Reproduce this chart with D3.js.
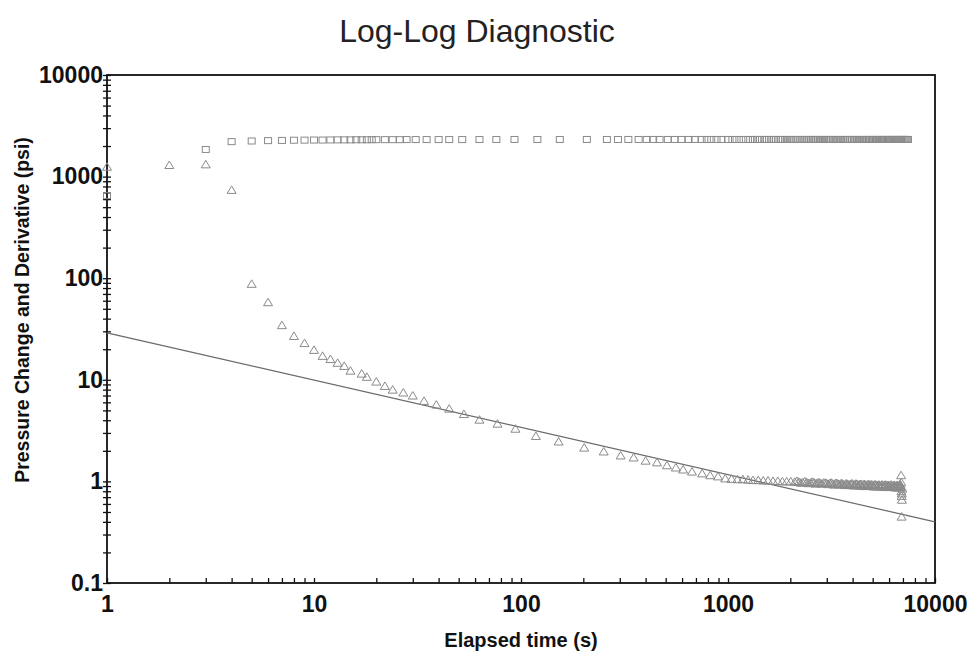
<!doctype html>
<html>

<head>
    <style>
        body { margin: 0; background: #fff; }
        .tick text { font-family: "Liberation Sans", Arial, sans-serif; font-weight: bold; font-size: 23px; fill: #111; }
        .mark { fill: none; stroke: #8a8a8a; stroke-width: 1; }
    </style>
    <script src="https://d3js.org/d3.v7.min.js"></script>
</head>

<body>
    <svg width="970" height="661"></svg>
    <script>
        // pressure change (squares)
        var pressureTime = [1, 3, 4, 5, 6, 7, 8, 9, 10, 11, 12, 13, 14, 15, 16, 17, 18, 19, 20,
            22, 24, 26, 28, 31, 35, 40, 45, 52, 63, 76, 93, 120, 154, 208, 260, 294, 330, 370, 405,
            435, 467, 512, 552, 596, 645, 692, 745, 790, 830, 880, 930, 1000,
            1050, 1100, 1160, 1220, 1280, 1350, 1420, 1500, 1580, 1660, 1750, 1840, 1930, 2020, 2120,
            2220, 2320, 2420, 2520, 2620, 2720, 2820, 2920, 3020, 3150, 3300, 3450, 3600, 3750, 3900,
            4050, 4200, 4350, 4500, 4650, 4800, 4950, 5100, 5250, 5400, 5550, 5700, 5850, 6000, 6150,
            6300, 6450, 6600, 6750, 6900, 7050, 7200, 7350,
            1320, 1390, 1460, 1540, 1620, 1700, 1800, 1890, 1980, 2070, 2170, 2270, 2370, 2470, 2570,
            2670, 2770, 2870, 2970, 3080, 3220, 3370, 3520, 3670, 3820, 3970, 4120, 4270, 4420, 4570,
            4720, 4870, 5020, 5170, 5320, 5470, 5620, 5770, 5920, 6070, 6220, 6370, 6520, 6670, 6820,
            6970, 7120, 7270, 7400]
        var pressure = [650, 1850, 2210, 2240, 2260, 2270, 2280, 2285, 2290, 2290, 2295, 2300, 2300, 2300, 2305, 2305, 2305, 2310, 2310,
            2310, 2310, 2310, 2315, 2315, 2315, 2315, 2315, 2315, 2320, 2320, 2320, 2320, 2320, 2320, 2320, 2320, 2320, 2320, 2320,
            2320, 2320, 2320, 2320, 2320, 2320, 2320, 2320, 2320, 2320, 2320, 2320, 2320,
            2320, 2320, 2320, 2320, 2320, 2320, 2320, 2320, 2320, 2320, 2320, 2320, 2320, 2320, 2320,
            2320, 2320, 2320, 2320, 2320, 2320, 2320, 2320, 2320, 2320, 2320, 2320, 2320, 2320, 2320,
            2320, 2320, 2320, 2320, 2320, 2320, 2320, 2320, 2320, 2320, 2320, 2320, 2320, 2320, 2320,
            2320, 2320, 2320, 2320, 2320, 2320, 2320, 2320,
            2320, 2320, 2320, 2320, 2320, 2320, 2320, 2320, 2320, 2320, 2320, 2320, 2320, 2320, 2320,
            2320, 2320, 2320, 2320, 2320, 2320, 2320, 2320, 2320, 2320, 2320, 2320, 2320, 2320, 2320,
            2320, 2320, 2320, 2320, 2320, 2320, 2320, 2320, 2320, 2320, 2320, 2320, 2320, 2320, 2320,
            2320, 2320, 2320, 2320]

        // derivative (triangles)
        var derivTime = [1, 2, 3, 4, 5, 6, 7, 8, 9, 10, 11, 12, 13, 14, 15, 17, 18, 20, 22, 24, 27, 30, 34, 39, 45, 53, 63, 77, 94,
            118, 152, 202, 251, 303, 350, 400, 454, 507, 560, 607, 670, 750, 820, 895, 970,
            1040, 1110, 1180, 1250, 1320, 1400, 1480, 1560, 1650, 1740, 1830, 1920, 2010,
            2100, 2200, 2300, 2400, 2500, 2600, 2700, 2800, 2900, 3000, 3100, 3200, 3300, 3400, 3500, 3600,
            3700, 3800, 3900, 4000, 4100, 4200, 4300, 4400, 4500, 4600, 4700, 4800, 4900, 5000, 5100, 5200,
            5300, 5400, 5500, 5600, 5700, 5800, 5900, 6000, 6100, 6200, 6300, 6400, 6500, 6600, 6700, 6800,
            2150, 2250, 2350, 2450, 2550, 2650, 2750, 2850, 2950, 3050, 3150, 3250, 3350, 3450, 3550, 3650,
            3750, 3850, 3950, 4050, 4150, 4250, 4350, 4450, 4550, 4650, 4750, 4850, 4950, 5050, 5150, 5250,
            5350, 5450, 5550, 5650, 5750, 5850, 5950, 6050, 6150, 6250, 6350, 6450, 6550, 6650, 6750, 6850,
            6820, 6860, 6880, 6900, 6920, 6900, 6950, 6870, 6910]
        var deriv = [1250, 1300, 1320, 740, 88, 58, 34.5, 27, 23, 19.7, 17.2, 16, 14.7, 13.7, 12.3, 11.5, 10.7, 9.6, 8.7, 8.0, 7.5, 7.0, 6.2, 5.7, 5.2, 4.6, 4.05, 3.7, 3.3,
            2.8, 2.47, 2.15, 1.97, 1.8, 1.72, 1.6, 1.54, 1.44, 1.37, 1.31, 1.25, 1.2, 1.15, 1.12, 1.07,
            1.06, 1.05, 1.05, 1.04, 1.03, 1.03, 1.02, 1.02, 1.01, 1.01, 1.0, 1.0, 1.0,
            0.99, 0.99, 0.98, 0.98, 0.97, 0.98, 0.97, 0.96, 0.97, 0.96, 0.96, 0.95, 0.96, 0.95, 0.95, 0.94,
            0.95, 0.94, 0.94, 0.95, 0.93, 0.94, 0.93, 0.94, 0.93, 0.93, 0.92, 0.93, 0.93, 0.92, 0.93, 0.92,
            0.92, 0.91, 0.92, 0.92, 0.91, 0.92, 0.91, 0.91, 0.92, 0.90, 0.91, 0.91, 0.90, 0.91, 0.90, 0.89,
            1.01, 0.97, 1.0, 0.96, 0.99, 0.95, 0.98, 0.95, 0.97, 0.94, 0.97, 0.93, 0.96, 0.93, 0.96, 0.92,
            0.95, 0.92, 0.95, 0.91, 0.95, 0.91, 0.94, 0.90, 0.94, 0.90, 0.94, 0.90, 0.93, 0.89, 0.93, 0.89,
            0.93, 0.89, 0.93, 0.88, 0.93, 0.88, 0.92, 0.88, 0.93, 0.88, 0.92, 0.87, 0.92, 0.87, 0.93, 0.88,
            0.93, 1.15, 0.8, 0.72, 0.66, 0.45, 0.85, 0.98, 0.76]

        // straight reference line
        var lineTime = [1, 10000]
        var lineValue = [29, 0.4]

        var xTickLabels = [1, 10, 100, 1000, 10000]
        var yTickLabels = [0.1, 1, 10, 100, 1000, 10000]

        var svg = d3.select("svg"),
            margin = { top: 75, right: 35, bottom: 78, left: 107 },
            width = 970 - margin.left - margin.right,
            height = 661 - margin.top - margin.bottom

        var x = d3.scaleLog().domain([1, 10000]).range([0, width]),
            y = d3.scaleLog().domain([0.1, 10000]).range([height, 0]);

        var g = svg.append("g")
            .attr("transform", "translate(" + margin.left + "," + margin.top + ")");

        // minor tick positions 1..9 per decade
        function minorTicks(lo, hi) {
            var out = [];
            for (var p = lo; p < hi; p++)
                for (var k = 1; k < 10; k++) out.push(k * Math.pow(10, p));
            out.push(Math.pow(10, hi));
            return out;
        }
        function fmt(d) {
            var v = +d.toPrecision(6);
            return xTickLabels.indexOf(v) >= 0 || yTickLabels.indexOf(v) >= 0 ? String(v) : "";
        }

        g.append("g")
            .attr("transform", "translate(0," + height + ")")
            .call(d3.axisBottom(x).tickValues(minorTicks(0, 4)).tickSizeInner(-5).tickSizeOuter(0).tickPadding(13).tickFormat(fmt));

        var yAxis = g.append("g")
            .call(d3.axisLeft(y).tickValues(minorTicks(-1, 4)).tickSizeInner(4).tickSizeOuter(0).tickPadding(0).tickFormat(fmt));
        yAxis.selectAll(".tick line").attr("x1", 4);

        g.selectAll(".domain").remove();
        g.selectAll(".tick line").attr("stroke", "#111").attr("stroke-width", 1.3);

        // frame
        g.append("rect")
            .attr("width", width).attr("height", height)
            .attr("fill", "none").attr("stroke", "#111").attr("stroke-width", 1.8);

        // reference line
        g.append("path")
            .datum(lineTime.map(function (t, i) { return [t, lineValue[i]]; }))
            .attr("fill", "none")
            .attr("stroke", "#6a6a6a")
            .attr("stroke-width", 1.2)
            .attr("d", d3.line().x(function (d) { return x(d[0]); }).y(function (d) { return y(d[1]); }));

        // squares
        g.selectAll(".sq")
            .data(pressureTime)
            .enter().append("rect")
            .attr("class", "mark sq")
            .attr("x", function (d) { return x(d) - 3.5; })
            .attr("y", function (d, i) { return y(pressure[i]) - 3; })
            .attr("width", 7)
            .attr("height", 6);

        // triangles
        g.selectAll(".tri")
            .data(derivTime)
            .enter().append("path")
            .attr("class", "mark tri")
            .attr("transform", function (d, i) { return "translate(" + x(d) + "," + y(deriv[i]) + ")"; })
            .attr("d", "M0,-4L4.5,3.5L-4.5,3.5Z");

        // X Axis Label
        svg.append("text")
            .attr("x", margin.left + width / 2)
            .attr("y", 647)
            .attr("text-anchor", "middle")
            .style("font-family", "Liberation Sans, Arial, sans-serif")
            .style("font-weight", "bold")
            .style("font-size", "20px")
            .style("fill", "#111")
            .text("Elapsed time (s)");

        // Y Axis Label
        svg.append("text")
            .attr("transform", "translate(29,310) rotate(-90)")
            .attr("text-anchor", "middle")
            .style("font-family", "Liberation Sans, Arial, sans-serif")
            .style("font-weight", "bold")
            .style("font-size", "19.5px")
            .style("fill", "#111")
            .text("Pressure Change and Derivative (psi)");

        // Title
        svg.append("text")
            .attr("x", 477)
            .attr("y", 42)
            .attr("text-anchor", "middle")
            .style("font-family", "Liberation Sans, Arial, sans-serif")
            .style("font-size", "32px")
            .style("fill", "#222")
            .text("Log-Log Diagnostic");
    </script>
</body>

</html>
